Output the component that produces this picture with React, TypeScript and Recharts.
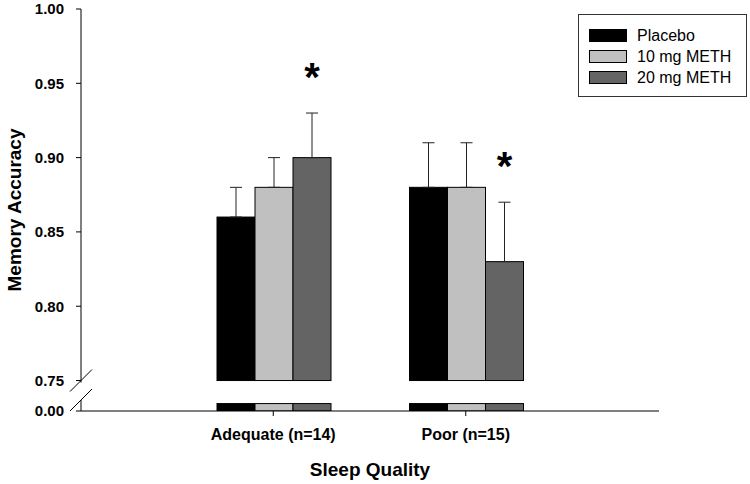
import React from 'react';
import { BarChart, Bar, XAxis, YAxis, ErrorBar, Legend, LabelList, Label } from 'recharts';

const groups = ['Adequate (n=14)', 'Poor (n=15)'];
const placebo = [0.86, 0.88];
const meth10 = [0.88, 0.88];
const meth20 = [0.9, 0.83];
const placeboErr = [0.02, 0.03];
const meth10Err = [0.02, 0.03];
const meth20Err = [0.03, 0.04];
const meth20Sig = ['*', '*'];
const yTickValues = [0, 0.75, 0.8, 0.85, 0.9, 0.95, 1.0];

// broken axis: everything above 0.75 is drawn as v - 0.75, 0.00 sits below the break
const BREAK_AT = 0.75;
const TOP_VAL = 0.25;
const ZERO_POS = -0.0205;
const STUB = 0.005;
const toPlot = (v: number) => (v >= BREAK_AT ? v - BREAK_AT : ZERO_POS + v);
const fromPlot = (t: number) => (t < -0.0001 ? t - ZERO_POS : t + BREAK_AT);

const W = 750;
const H = 484;
const TOP = 9;
const AXIS_X = 81;
const X_AXIS_H = 73;
const PLOT_H = H - TOP - X_AXIS_H;
const yPx = (t: number) => TOP + ((TOP_VAL - t) / (TOP_VAL - ZERO_POS)) * PLOT_H;

const series = [
  { key: 'placebo', name: 'Placebo', color: '#000000' },
  { key: 'meth10', name: '10 mg METH', color: '#c0c0c0' },
  { key: 'meth20', name: '20 mg METH', color: '#646464' },
];

const data = groups.map((g, i) => ({
  group: g,
  placebo: toPlot(placebo[i]),
  meth10: toPlot(meth10[i]),
  meth20: toPlot(meth20[i]),
  placeboErr: [0, placeboErr[i]],
  meth10Err: [0, meth10Err[i]],
  meth20Err: [0, meth20Err[i]],
  meth20Sig: meth20Sig[i],
  meth20ErrUp: meth20Err[i],
}));

const font = '"Liberation Sans", Arial, Helvetica, sans-serif';

const brokenBar = (key: string) => (props: any) => {
  const { x, y, width, height, fill, payload } = props;
  const ppu = height / payload[key];
  const zeroY = y + height - ZERO_POS * ppu;
  const stubTop = zeroY - STUB * ppu;
  return (
    <g>
      <rect x={x} y={y} width={width} height={height} fill={fill} stroke="#000" strokeWidth={1} />
      <rect x={x} y={stubTop} width={width} height={zeroY - stubTop} fill={fill} stroke="#000" strokeWidth={1} />
    </g>
  );
};

const sigLabel = (props: any) => {
  const { x, y, width, height, value, index } = props;
  const ppu = height / data[index].meth20;
  const errTop = y - data[index].meth20ErrUp * ppu;
  return (
    <text x={x + width / 2} y={errTop - 22} textAnchor="middle" fontSize={40} fontWeight="bold" fill="#000" fontFamily={font}>
      {value}
    </text>
  );
};

const LegendBox = () => (
  <div
    style={{
      width: 167,
      height: 71,
      border: '1px solid #333',
      background: '#fff',
      boxSizing: 'content-box',
      paddingTop: 10,
      fontFamily: font,
    }}
  >
    {series.map((s) => (
      <div key={s.key} style={{ display: 'flex', alignItems: 'center', height: 21, paddingLeft: 10 }}>
        <div style={{ width: 36, height: 11, background: s.color, border: '1px solid #000' }} />
        <span style={{ marginLeft: 10, fontSize: 16, color: '#000' }}>{s.name}</span>
      </div>
    ))}
  </div>
);

export default function App() {
  const gapTop = yPx(0) + 2;
  const gapBot = yPx(ZERO_POS) - 11;
  return (
    <div style={{ position: 'absolute', left: 0, top: 0, width: W, height: H, background: '#fff' }}>
      <BarChart
        width={W}
        height={H}
        data={data}
        margin={{ top: TOP, right: W - 659, bottom: 0, left: 0 }}
        barCategoryGap={40}
        barGap={0}
      >
        <XAxis
          dataKey="group"
          padding={{ left: 96, right: 97 }}
          height={X_AXIS_H}
          axisLine={{ stroke: '#000', strokeWidth: 1 }}
          tickLine={{ stroke: '#000' }}
          tickSize={5}
          tickMargin={13}
          tick={{ fill: '#000', fontSize: 16, fontWeight: 'bold', fontFamily: font }}
        >
          <Label
            value="Sleep Quality"
            position="insideBottom"
            offset={8}
            style={{ fill: '#000', fontSize: 19, fontWeight: 'bold', fontFamily: font }}
          />
        </XAxis>
        <YAxis
          type="number"
          width={AXIS_X}
          domain={[ZERO_POS, TOP_VAL]}
          allowDataOverflow
          ticks={yTickValues.map(toPlot)}
          tickFormatter={(t: number) => fromPlot(t).toFixed(2)}
          axisLine={{ stroke: '#000', strokeWidth: 1 }}
          tickLine={{ stroke: '#000' }}
          tickSize={5}
          tickMargin={12}
          tick={{ fill: '#000', fontSize: 15, fontWeight: 'bold', fontFamily: font }}
        >
          <Label
            content={() => {
              const cx = 14;
              const cy = TOP + PLOT_H / 2;
              return (
                <text
                  x={cx}
                  y={cy}
                  transform={`rotate(-90 ${cx} ${cy})`}
                  textAnchor="middle"
                  dominantBaseline="central"
                  fontSize={19}
                  fontWeight="bold"
                  fill="#000"
                  fontFamily={font}
                >
                  Memory Accuracy
                </text>
              );
            }}
          />
        </YAxis>
        <Legend
          layout="horizontal"
          verticalAlign="middle"
          align="center"
          wrapperStyle={{ top: 14, left: 578, width: 170 }}
          content={() => <LegendBox />}
        />
        {series.map((s) => (
          <Bar
            key={s.key}
            dataKey={s.key}
            name={s.name}
            fill={s.color}
            isAnimationActive={false}
            shape={brokenBar(s.key)}
          >
            <ErrorBar dataKey={`${s.key}Err`} width={6} stroke="#222" strokeWidth={1} direction="y" />
            {s.key === 'meth20' && <LabelList dataKey="meth20Sig" content={sigLabel} />}
          </Bar>
        ))}
      </BarChart>
      <svg width={W} height={H} style={{ position: 'absolute', left: 0, top: 0, pointerEvents: 'none' }}>
        <rect x={AXIS_X - 3} y={gapTop} width={6} height={gapBot - gapTop} fill="#fff" />
        <line x1={AXIS_X - 11} y1={yPx(0) + 11} x2={AXIS_X + 11} y2={yPx(0) - 11} stroke="#000" strokeWidth={1} />
        <line x1={AXIS_X - 11} y1={gapBot + 11} x2={AXIS_X + 11} y2={gapBot - 11} stroke="#000" strokeWidth={1} />
      </svg>
    </div>
  );
}
